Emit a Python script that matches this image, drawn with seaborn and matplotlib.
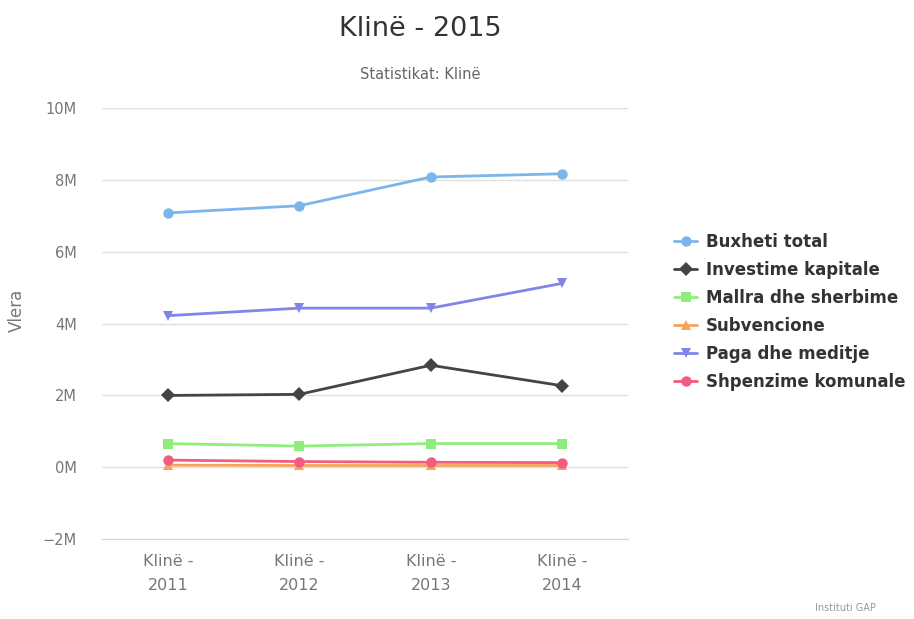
import matplotlib
matplotlib.use("Agg")
import matplotlib.pyplot as plt
import numpy as np
import seaborn as sns
import pandas as pd
from matplotlib.ticker import FuncFormatter, FixedLocator

# data (values in millions)
categories = ["Klinë -\n2011", "Klinë -\n2012", "Klinë -\n2013", "Klinë -\n2014"]
buxheti_total = [7.08, 7.28, 8.08, 8.17]
investime_kapitale = [2.0, 2.03, 2.84, 2.27]
mallra_dhe_sherbime = [0.66, 0.59, 0.66, 0.66]
subvencione = [0.06, 0.05, 0.05, 0.05]
paga_dhe_meditje = [4.22, 4.43, 4.43, 5.12]
shpenzime_komunale = [0.2, 0.16, 0.14, 0.13]

series_names = ["Buxheti total", "Investime kapitale", "Mallra dhe sherbime",
                "Subvencione", "Paga dhe meditje", "Shpenzime komunale"]
series_vals = [buxheti_total, investime_kapitale, mallra_dhe_sherbime,
               subvencione, paga_dhe_meditje, shpenzime_komunale]

colors = ["#7cb5ec", "#434348", "#90ed7d", "#f7a35c", "#8085e9", "#f15c80"]
marks = ["o", "D", "s", "^", "v", "o"]

rows = []
for name, vals in zip(series_names, series_vals):
    for i, v in enumerate(vals):
        rows.append({"pos": i, "Seria": name, "Vlera": v * 1e6})
df = pd.DataFrame(rows)

sns.set_style("white")
plt.rcParams['font.family'] = ['DejaVu Sans']

fig = plt.figure(figsize=(9.14, 6.19), dpi=100)
ax = fig.add_axes([0.1116, 0.129, 0.5755, 0.6965])

sns.lineplot(data=df, x="pos", y="Vlera", hue="Seria", style="Seria",
             hue_order=series_names, style_order=series_names,
             palette=dict(zip(series_names, colors)),
             markers=dict(zip(series_names, marks)), dashes=False,
             linewidth=2, markersize=7.5, markeredgewidth=0, ax=ax, legend=True)

ax.set_xlim(-0.5, 3.5)
ax.set_ylim(-2e6, 10e6)
ax.set_yticks(np.arange(-2e6, 10.1e6, 2e6))
ax.yaxis.set_major_formatter(FuncFormatter(lambda v, p: f"{v/1e6:.0f}M".replace("-", "\u2212")))
ax.grid(axis="y", color="#e0e0e0", linewidth=1)
ax.set_axisbelow(True)

ax.set_xticks(range(len(categories)))
ax.set_xticklabels(categories, color="#777777", fontsize=11.5, linespacing=1.7)
ax.xaxis.set_minor_locator(FixedLocator([-0.5, 0.5, 1.5, 2.5, 3.5]))
ax.tick_params(axis="x", which="major", length=0, pad=11)
ax.tick_params(axis="x", which="minor", length=10, color="#ccd6eb", width=1)
ax.tick_params(axis="y", length=0, labelsize=10.5, labelcolor="#777777", pad=18)

for s in ["top", "right", "left"]:
    ax.spines[s].set_visible(False)
ax.spines["bottom"].set_color("#ccd6eb")

ax.set_xlabel("")
ax.set_ylabel("Vlera", color="#777777", fontsize=12)
ax.yaxis.set_label_coords(-0.145, 0.53)

handles, labels = ax.get_legend_handles_labels()
ax.get_legend().remove()
fig.legend(handles, labels, loc="upper left", bbox_to_anchor=(0.721, 0.648),
           frameon=False, prop={"weight": "bold", "size": 12},
           handlelength=1.4, handletextpad=0.5, labelspacing=0.6,
           labelcolor="#333333")

fig.text(0.4595, 0.953, "Klinë - 2015", ha="center", va="center",
         fontsize=19.5, color="#333333")
fig.text(0.4595, 0.880, "Statistikat: Klinë", ha="center",
         va="center", fontsize=10.5, color="#666666")
fig.text(0.958, 0.018, "Instituti GAP", ha="right", va="center", fontsize=7, color="#999999")

fig.savefig("out.png", dpi=100)
